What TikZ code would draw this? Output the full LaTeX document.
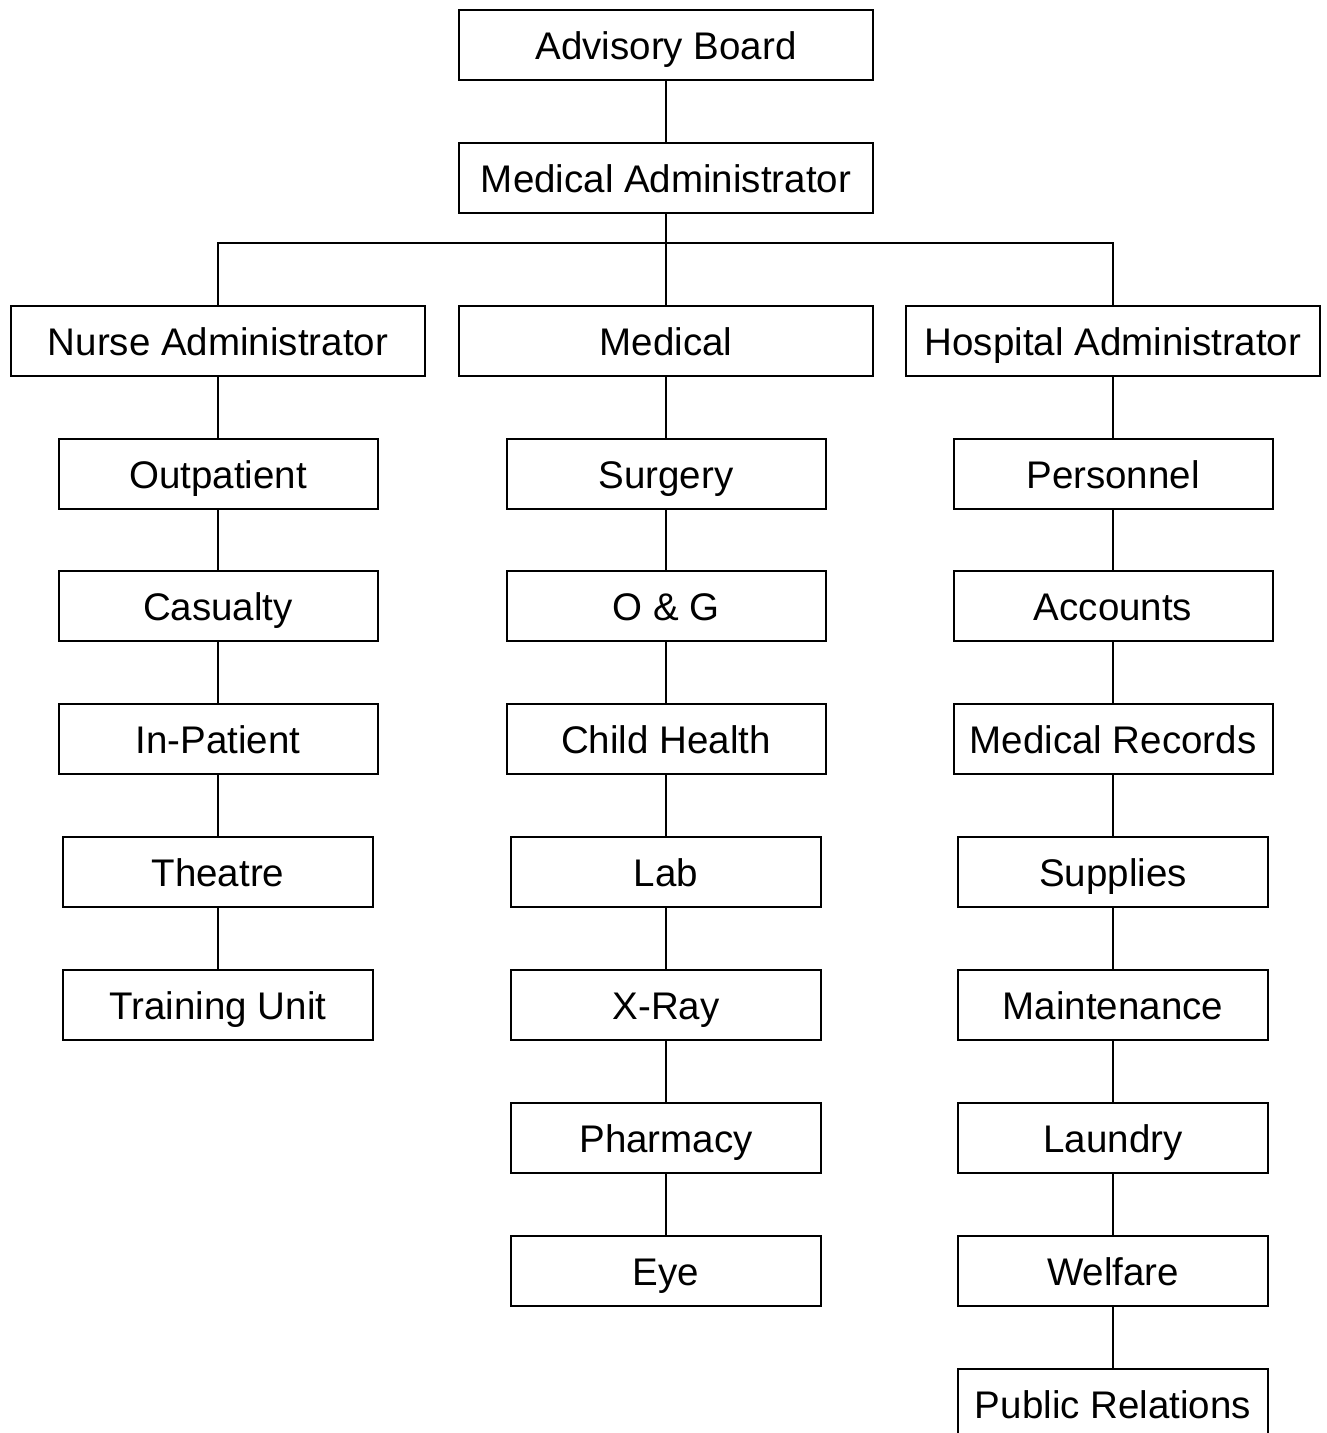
\documentclass[tikz,border=0pt]{standalone}
\usepackage{fontspec}
\setmainfont{Liberation Sans}
\begin{document}
\begin{tikzpicture}[x=1pt,y=-1pt,
  box/.style={draw, line width=2pt, inner sep=0pt, minimum height=70pt,
    text height=28.5pt, text depth=0pt,
    font=\fontsize{38.5}{40}\selectfont},
  wA/.style={box, minimum width=414pt},
  wB/.style={box, minimum width=319pt},
  wC/.style={box, minimum width=310pt},
  conn/.style={line width=2pt}]
\useasboundingbox (0,0) rectangle (1327,1433);
% top
\node[wA] (ab) at (666,45) {Advisory Board};
\node[wA] (ma) at (666,178) {Medical Administrator};
\node[wA] (na) at (218,341) {Nurse Administrator};
\node[wA] (me) at (666,341) {Medical};
\node[wA] (ha) at (1113,341) {Hospital Administrator};
\coordinate (jn) at (666,243);
% left column
\node[wB] (l1) at (218,474) {Outpatient};
\node[wB] (l2) at (218,606) {Casualty};
\node[wB] (l3) at (218,739) {In-Patient};
\node[wC] (l4) at (218,872) {Theatre};
\node[wC] (l5) at (218,1005) {Training Unit};
% middle column
\node[wB] (m1) at (666,474) {Surgery};
\node[wB] (m2) at (666,606) {O \& G};
\node[wB] (m3) at (666,739) {Child Health};
\node[wC] (m4) at (666,872) {Lab};
\node[wC] (m5) at (666,1005) {X-Ray};
\node[wC] (m6) at (666,1138) {Pharmacy};
\node[wC] (m7) at (666,1271) {Eye};
% right column
\node[wB] (r1) at (1113,474) {Personnel};
\node[wB] (r2) at (1113,606) {Accounts};
\node[wB] (r3) at (1113,739) {Medical Records};
\node[wC] (r4) at (1113,872) {Supplies};
\node[wC] (r5) at (1113,1005) {Maintenance};
\node[wC] (r6) at (1113,1138) {Laundry};
\node[wC] (r7) at (1113,1271) {Welfare};
\node[wC] (r8) at (1113,1404) {Public Relations};
% connectors
\draw[conn] (ab) -- (ma);
\draw[conn] (ma) -- (me);
\draw[conn] (na.north) -- (na.north |- jn) -- (ha.north |- jn) -- (ha.north);
\draw[conn] (na) -- (l1) -- (l2) -- (l3) -- (l4) -- (l5);
\draw[conn] (me) -- (m1) -- (m2) -- (m3) -- (m4) -- (m5) -- (m6) -- (m7);
\draw[conn] (ha) -- (r1) -- (r2) -- (r3) -- (r4) -- (r5) -- (r6) -- (r7) -- (r8);
\end{tikzpicture}
\end{document}
